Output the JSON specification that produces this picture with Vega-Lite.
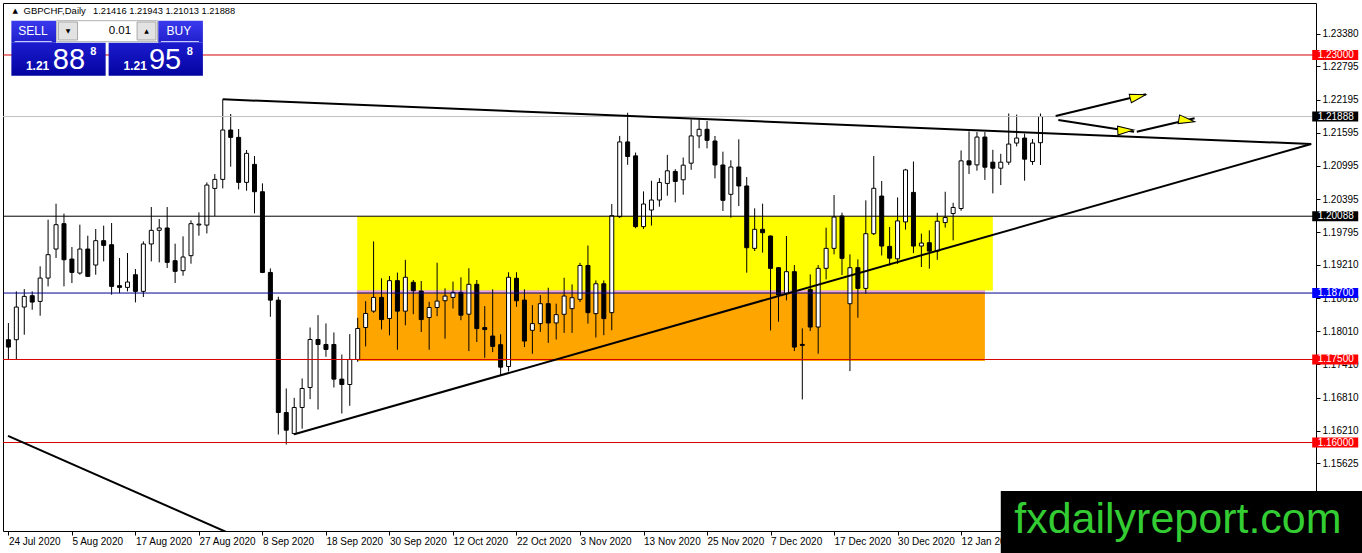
{
"$schema": "https://vega.github.io/schema/vega-lite/v6.json",
"width": 1313, "height": 528,
"autosize": "none",
"padding": {"left": 3, "top": 3, "right": 46, "bottom": 22},
"background": "white",
"config": {"font": "Liberation Sans", "view": {"stroke": "black", "strokeWidth": 1},
 "axis": {"labelFont": "Liberation Sans", "labelFontSize": 10, "labelColor": "black", "tickColor": "black", "grid": false, "domain": false, "title": null}},
"resolve": {"scale": {"fill": "independent", "stroke": "independent"}},
"datasets": {
"one": [{}],
"candles": [
{"date":"2020-07-24","i":0,"o":1.17857,"h":1.18158,"l":1.17507,"c":1.17724},
{"date":"2020-07-27","i":1,"o":1.17857,"h":1.18730,"l":1.17507,"c":1.18447},
{"date":"2020-07-28","i":2,"o":1.18447,"h":1.18772,"l":1.17947,"c":1.18640},
{"date":"2020-07-29","i":3,"o":1.18652,"h":1.18730,"l":1.18399,"c":1.18537},
{"date":"2020-07-30","i":4,"o":1.18549,"h":1.19182,"l":1.18290,"c":1.18971},
{"date":"2020-07-31","i":5,"o":1.18971,"h":1.20025,"l":1.18820,"c":1.19393},
{"date":"2020-08-03","i":6,"o":1.19495,"h":1.20314,"l":1.19333,"c":1.19935},
{"date":"2020-08-04","i":7,"o":1.19953,"h":1.20134,"l":1.18820,"c":1.19302},
{"date":"2020-08-05","i":8,"o":1.19314,"h":1.19531,"l":1.18881,"c":1.19073},
{"date":"2020-08-06","i":9,"o":1.19061,"h":1.19935,"l":1.19031,"c":1.19495},
{"date":"2020-08-07","i":10,"o":1.19495,"h":1.19736,"l":1.18990,"c":1.19001},
{"date":"2020-08-10","i":11,"o":1.19206,"h":1.19857,"l":1.19031,"c":1.19646},
{"date":"2020-08-11","i":12,"o":1.19646,"h":1.19917,"l":1.19272,"c":1.19561},
{"date":"2020-08-12","i":13,"o":1.19573,"h":1.19965,"l":1.18670,"c":1.18820},
{"date":"2020-08-13","i":14,"o":1.18833,"h":1.19333,"l":1.18700,"c":1.18802},
{"date":"2020-08-14","i":15,"o":1.18802,"h":1.19423,"l":1.18730,"c":1.18899},
{"date":"2020-08-17","i":16,"o":1.19031,"h":1.19134,"l":1.18531,"c":1.18730},
{"date":"2020-08-18","i":17,"o":1.18730,"h":1.19634,"l":1.18628,"c":1.19586},
{"date":"2020-08-19","i":18,"o":1.19586,"h":1.20254,"l":1.19272,"c":1.19833},
{"date":"2020-08-20","i":19,"o":1.19833,"h":1.20037,"l":1.19254,"c":1.19875},
{"date":"2020-08-21","i":20,"o":1.19875,"h":1.20254,"l":1.19152,"c":1.19254},
{"date":"2020-08-24","i":21,"o":1.19284,"h":1.19592,"l":1.18881,"c":1.19092},
{"date":"2020-08-25","i":22,"o":1.19104,"h":1.19724,"l":1.19013,"c":1.19351},
{"date":"2020-08-26","i":23,"o":1.19375,"h":1.20013,"l":1.19230,"c":1.19953},
{"date":"2020-08-27","i":24,"o":1.19930,"h":1.20158,"l":1.19736,"c":1.19945},
{"date":"2020-08-28","i":25,"o":1.19928,"h":1.20699,"l":1.19777,"c":1.20651},
{"date":"2020-08-31","i":26,"o":1.20590,"h":1.20849,"l":1.20090,"c":1.20753},
{"date":"2020-09-01","i":27,"o":1.20753,"h":1.22200,"l":1.20590,"c":1.21645},
{"date":"2020-09-02","i":28,"o":1.21645,"h":1.21934,"l":1.20982,"c":1.21512},
{"date":"2020-09-03","i":29,"o":1.21512,"h":1.21663,"l":1.20572,"c":1.20699},
{"date":"2020-09-04","i":30,"o":1.20699,"h":1.21283,"l":1.20548,"c":1.21223},
{"date":"2020-09-07","i":31,"o":1.21024,"h":1.21175,"l":1.20139,"c":1.20530},
{"date":"2020-09-08","i":32,"o":1.20530,"h":1.20681,"l":1.19060,"c":1.19072},
{"date":"2020-09-09","i":33,"o":1.19072,"h":1.19145,"l":1.18271,"c":1.18572},
{"date":"2020-09-10","i":34,"o":1.18572,"h":1.18633,"l":1.16145,"c":1.16542},
{"date":"2020-09-11","i":35,"o":1.16542,"h":1.16976,"l":1.15964,"c":1.16223},
{"date":"2020-09-14","i":36,"o":1.16163,"h":1.16807,"l":1.16133,"c":1.16633},
{"date":"2020-09-15","i":37,"o":1.16633,"h":1.17157,"l":1.16250,"c":1.16976},
{"date":"2020-09-16","i":38,"o":1.16994,"h":1.18078,"l":1.16783,"c":1.17861},
{"date":"2020-09-17","i":39,"o":1.17861,"h":1.18301,"l":1.16596,"c":1.17771},
{"date":"2020-09-18","i":40,"o":1.17771,"h":1.18151,"l":1.17548,"c":1.17681},
{"date":"2020-09-21","i":41,"o":1.17771,"h":1.17988,"l":1.16994,"c":1.17145},
{"date":"2020-09-22","i":42,"o":1.17145,"h":1.17590,"l":1.16524,"c":1.17048},
{"date":"2020-09-23","i":43,"o":1.17048,"h":1.17958,"l":1.16663,"c":1.17500},
{"date":"2020-09-24","i":44,"o":1.17500,"h":1.18253,"l":1.17458,"c":1.18060},
{"date":"2020-09-25","i":45,"o":1.18078,"h":1.18554,"l":1.17736,"c":1.18331},
{"date":"2020-09-28","i":46,"o":1.18373,"h":1.19633,"l":1.18342,"c":1.18621},
{"date":"2020-09-29","i":47,"o":1.18621,"h":1.18967,"l":1.18040,"c":1.18221},
{"date":"2020-09-30","i":48,"o":1.18240,"h":1.19009,"l":1.17936,"c":1.18924},
{"date":"2020-10-01","i":49,"o":1.18924,"h":1.19070,"l":1.17676,"c":1.18373},
{"date":"2020-10-02","i":50,"o":1.18373,"h":1.19300,"l":1.18118,"c":1.18985},
{"date":"2020-10-05","i":51,"o":1.18894,"h":1.18936,"l":1.18318,"c":1.18742},
{"date":"2020-10-06","i":52,"o":1.18736,"h":1.18918,"l":1.17997,"c":1.18221},
{"date":"2020-10-07","i":53,"o":1.18258,"h":1.18542,"l":1.17676,"c":1.18439},
{"date":"2020-10-08","i":54,"o":1.18439,"h":1.19248,"l":1.18282,"c":1.18555},
{"date":"2020-10-09","i":55,"o":1.18561,"h":1.18785,"l":1.17876,"c":1.18645},
{"date":"2020-10-12","i":56,"o":1.18621,"h":1.18906,"l":1.18421,"c":1.18712},
{"date":"2020-10-13","i":57,"o":1.18712,"h":1.18985,"l":1.18209,"c":1.18300},
{"date":"2020-10-14","i":58,"o":1.18318,"h":1.19148,"l":1.17652,"c":1.18858},
{"date":"2020-10-15","i":59,"o":1.18858,"h":1.18936,"l":1.17815,"c":1.18058},
{"date":"2020-10-16","i":60,"o":1.18076,"h":1.18464,"l":1.17530,"c":1.18040},
{"date":"2020-10-19","i":61,"o":1.17924,"h":1.18767,"l":1.17633,"c":1.17736},
{"date":"2020-10-20","i":62,"o":1.17767,"h":1.17955,"l":1.17209,"c":1.17361},
{"date":"2020-10-21","i":63,"o":1.17373,"h":1.19076,"l":1.17282,"c":1.18985},
{"date":"2020-10-22","i":64,"o":1.18967,"h":1.19076,"l":1.18452,"c":1.18561},
{"date":"2020-10-23","i":65,"o":1.18573,"h":1.18767,"l":1.17724,"c":1.17833},
{"date":"2020-10-26","i":66,"o":1.18027,"h":1.18482,"l":1.17603,"c":1.18148},
{"date":"2020-10-27","i":67,"o":1.18148,"h":1.18664,"l":1.17998,"c":1.18508},
{"date":"2020-10-28","i":68,"o":1.18508,"h":1.18796,"l":1.17800,"c":1.18160},
{"date":"2020-10-29","i":69,"o":1.18160,"h":1.18508,"l":1.17860,"c":1.18310},
{"date":"2020-10-30","i":70,"o":1.18316,"h":1.18976,"l":1.17980,"c":1.18646},
{"date":"2020-11-02","i":71,"o":1.18418,"h":1.18856,"l":1.17980,"c":1.18616},
{"date":"2020-11-03","i":72,"o":1.18586,"h":1.19246,"l":1.18538,"c":1.19198},
{"date":"2020-11-04","i":73,"o":1.19198,"h":1.19558,"l":1.18148,"c":1.18346},
{"date":"2020-11-05","i":74,"o":1.18328,"h":1.18928,"l":1.17896,"c":1.18868},
{"date":"2020-11-06","i":75,"o":1.18868,"h":1.18928,"l":1.17938,"c":1.18238},
{"date":"2020-11-09","i":76,"o":1.18346,"h":1.20308,"l":1.18028,"c":1.20098},
{"date":"2020-11-10","i":77,"o":1.20080,"h":1.21538,"l":1.20056,"c":1.21430},
{"date":"2020-11-11","i":78,"o":1.21430,"h":1.21957,"l":1.21016,"c":1.21166},
{"date":"2020-11-12","i":79,"o":1.21178,"h":1.21238,"l":1.19870,"c":1.19900},
{"date":"2020-11-13","i":80,"o":1.19900,"h":1.20536,"l":1.19858,"c":1.20308},
{"date":"2020-11-16","i":81,"o":1.20200,"h":1.20728,"l":1.19918,"c":1.20380},
{"date":"2020-11-17","i":82,"o":1.20380,"h":1.20776,"l":1.20260,"c":1.20698},
{"date":"2020-11-18","i":83,"o":1.20680,"h":1.21196,"l":1.20458,"c":1.20908},
{"date":"2020-11-19","i":84,"o":1.20896,"h":1.20938,"l":1.20338,"c":1.20716},
{"date":"2020-11-20","i":85,"o":1.20746,"h":1.21148,"l":1.20476,"c":1.21010},
{"date":"2020-11-23","i":86,"o":1.21046,"h":1.21837,"l":1.20926,"c":1.21538},
{"date":"2020-11-24","i":87,"o":1.21538,"h":1.21855,"l":1.21316,"c":1.21658},
{"date":"2020-11-25","i":88,"o":1.21658,"h":1.21808,"l":1.21314,"c":1.21459},
{"date":"2020-11-26","i":89,"o":1.21447,"h":1.21537,"l":1.20772,"c":1.21013},
{"date":"2020-11-27","i":90,"o":1.21013,"h":1.21254,"l":1.20182,"c":1.20375},
{"date":"2020-11-30","i":91,"o":1.20483,"h":1.21098,"l":1.20061,"c":1.20977},
{"date":"2020-12-01","i":92,"o":1.20977,"h":1.21477,"l":1.20272,"c":1.20634},
{"date":"2020-12-02","i":93,"o":1.20634,"h":1.20796,"l":1.19067,"c":1.19519},
{"date":"2020-12-03","i":94,"o":1.19507,"h":1.20230,"l":1.19459,"c":1.19851},
{"date":"2020-12-04","i":95,"o":1.19851,"h":1.20314,"l":1.19429,"c":1.19790},
{"date":"2020-12-07","i":96,"o":1.19730,"h":1.19740,"l":1.18025,"c":1.19146},
{"date":"2020-12-08","i":97,"o":1.19158,"h":1.19170,"l":1.18182,"c":1.18664},
{"date":"2020-12-09","i":98,"o":1.18688,"h":1.19730,"l":1.18567,"c":1.19086},
{"date":"2020-12-10","i":99,"o":1.19086,"h":1.19206,"l":1.17652,"c":1.17724},
{"date":"2020-12-11","i":100,"o":1.17772,"h":1.18061,"l":1.16778,"c":1.17754},
{"date":"2020-12-14","i":101,"o":1.18766,"h":1.19037,"l":1.18013,"c":1.18086},
{"date":"2020-12-15","i":102,"o":1.18086,"h":1.19206,"l":1.17604,"c":1.19146},
{"date":"2020-12-16","i":103,"o":1.19146,"h":1.19881,"l":1.18947,"c":1.19507},
{"date":"2020-12-17","i":104,"o":1.19507,"h":1.20471,"l":1.19399,"c":1.20073},
{"date":"2020-12-18","i":105,"o":1.20092,"h":1.20152,"l":1.19025,"c":1.19327},
{"date":"2020-12-21","i":106,"o":1.18507,"h":1.19399,"l":1.17290,"c":1.19158},
{"date":"2020-12-22","i":107,"o":1.19158,"h":1.19308,"l":1.18254,"c":1.18784},
{"date":"2020-12-23","i":108,"o":1.18784,"h":1.20375,"l":1.18688,"c":1.19772},
{"date":"2020-12-24","i":109,"o":1.19772,"h":1.21176,"l":1.19748,"c":1.20592},
{"date":"2020-12-28","i":110,"o":1.20452,"h":1.20724,"l":1.19379,"c":1.19549},
{"date":"2020-12-29","i":111,"o":1.19543,"h":1.19894,"l":1.19197,"c":1.19330},
{"date":"2020-12-30","i":112,"o":1.19318,"h":1.20427,"l":1.19227,"c":1.20003},
{"date":"2020-12-31","i":113,"o":1.19985,"h":1.20943,"l":1.19846,"c":1.20924},
{"date":"2021-01-04","i":114,"o":1.20518,"h":1.21076,"l":1.19421,"c":1.19549},
{"date":"2021-01-05","i":115,"o":1.19549,"h":1.19773,"l":1.19170,"c":1.19603},
{"date":"2021-01-06","i":116,"o":1.19609,"h":1.19833,"l":1.19140,"c":1.19458},
{"date":"2021-01-07","i":117,"o":1.19458,"h":1.20149,"l":1.19300,"c":1.19997},
{"date":"2021-01-08","i":118,"o":1.19973,"h":1.20530,"l":1.19882,"c":1.20064},
{"date":"2021-01-11","i":119,"o":1.20136,"h":1.20330,"l":1.19652,"c":1.20246},
{"date":"2021-01-12","i":120,"o":1.20227,"h":1.21276,"l":1.20185,"c":1.21088},
{"date":"2021-01-13","i":121,"o":1.21088,"h":1.21621,"l":1.20850,"c":1.21015},
{"date":"2021-01-14","i":122,"o":1.21015,"h":1.21609,"l":1.20910,"c":1.21518},
{"date":"2021-01-15","i":123,"o":1.21518,"h":1.21609,"l":1.20743,"c":1.20973},
{"date":"2021-01-18","i":124,"o":1.21064,"h":1.21288,"l":1.20500,"c":1.20955},
{"date":"2021-01-19","i":125,"o":1.20955,"h":1.21215,"l":1.20650,"c":1.21064},
{"date":"2021-01-20","i":126,"o":1.21064,"h":1.21943,"l":1.21015,"c":1.21391},
{"date":"2021-01-21","i":127,"o":1.21409,"h":1.21924,"l":1.21349,"c":1.21500},
{"date":"2021-01-22","i":128,"o":1.21500,"h":1.21579,"l":1.20730,"c":1.21118},
{"date":"2021-01-25","i":129,"o":1.21076,"h":1.21482,"l":1.21015,"c":1.21409},
{"date":"2021-01-26","i":130,"o":1.21416,"h":1.21943,"l":1.21013,"c":1.21888}
],
"zones": [
{"zone":"upper","from":43.94,"to":124.0,"lo":1.18746,"hi":1.20088},
{"zone":"lower","from":43.94,"to":123.0,"lo":1.17472,"hi":1.18746}
],
"levels": [
{"level":1.23,"role":"resistance"},
{"level":1.21888,"role":"bid"},
{"level":1.20088,"role":"pivot"},
{"level":1.187,"role":"zone"},
{"level":1.175,"role":"support"},
{"level":1.16,"role":"support"}
],
"trend": [
{"line":"upper","i":27,"p":1.222},
{"line":"upper","i":164.1,"p":1.21392},
{"line":"rising","i":36,"p":1.1615},
{"line":"rising","i":164.1,"p":1.21392},
{"line":"falling","i":-0.05,"p":1.1612},
{"line":"falling","i":30,"p":1.14223}
],
"arrows": [
{"arrow":1,"i":131.91,"p":1.21898},
{"arrow":1,"i":143.29,"p":1.2229},
{"arrow":2,"i":132.25,"p":1.21826},
{"arrow":2,"i":141.79,"p":1.21615},
{"arrow":3,"i":142.13,"p":1.21615},
{"arrow":3,"i":149.41,"p":1.21857}
],
"heads": [
{"arrow":1,"i":142.29,"p":1.222486},
{"arrow":2,"i":140.74,"p":1.216398},
{"arrow":3,"i":148.43,"p":1.218168}
]
},
"layer": [
{"data":{"name":"zones"},"mark":{"type":"rect","clip":true},
 "encoding":{"x":{"field":"from","type":"quantitative","title":null},"x2":{"field":"to"},
  "y":{"field":"lo","type":"quantitative","title":null},"y2":{"field":"hi"},
  "fill":{"field":"zone","type":"nominal","scale":{"domain":["upper","lower"],"range":["#ffff00","#ffa500"]},"legend":null}}},
{"data":{"name":"one"},"mark":{"type":"rule","stroke":"#e4a4ee","strokeWidth":2,"clip":true},
 "encoding":{"x":{"datum":43.94,"type":"quantitative"},"x2":{"datum":123.0},"y":{"datum":1.18728,"type":"quantitative"}}},
{"data":{"name":"candles"},"mark":{"type":"rule","stroke":"black","strokeWidth":1,"clip":true},
 "encoding":{
  "x":{"field":"i","type":"quantitative","title":null,"scale":{"domain":[-0.05,164.075],"nice":false,"zero":false},
   "axis":{"values":[0,8,16,24,32,40,48,56,64,72,80,88,96,104,112,120],
    "labelExpr":"['24 Jul 2020','5 Aug 2020','17 Aug 2020','27 Aug 2020','8 Sep 2020','18 Sep 2020','30 Sep 2020','12 Oct 2020','22 Oct 2020','3 Nov 2020','13 Nov 2020','25 Nov 2020','7 Dec 2020','17 Dec 2020','30 Dec 2020','12 Jan 2021'][round(datum.value/8)]",
    "labelAlign":"left","tickSize":4,"labelPadding":1,"labelOverlap":false,"labelFlush":false,"labelBound":false,"title":null}},
  "y":{"field":"l","type":"quantitative","title":null,"scale":{"domain":[1.144017,1.239393],"nice":false,"zero":false},
   "axis":{"orient":"right","values":[1.15625,1.1621,1.1681,1.1741,1.1801,1.1861,1.1921,1.19795,1.20395,1.20995,1.21595,1.22195,1.22795,1.2338],
    "format":".5f","tickSize":4,"labelPadding":2,"labelOverlap":false,"labelBound":false,"title":null}},
  "y2":{"field":"h"}}},
{"data":{"name":"candles"},"mark":{"type":"bar","width":4,"stroke":"black","strokeWidth":1,"clip":true},
 "encoding":{"x":{"field":"i","type":"quantitative","title":null},
  "y":{"field":"o","type":"quantitative","title":null},"y2":{"field":"c"},
  "fill":{"condition":{"test":"datum.c >= datum.o","value":"white"},"value":"black"}}},
{"data":{"name":"levels"},"mark":{"type":"rule","strokeWidth":1},
 "encoding":{"y":{"field":"level","type":"quantitative","title":null},
  "stroke":{"field":"role","type":"nominal","scale":{"domain":["resistance","bid","pivot","zone","support"],"range":["#d40000","#c0c0c0","#000000","#000090","#d40000"]},"legend":null}}},
{"data":{"name":"trend"},"mark":{"type":"line","stroke":"black","strokeWidth":2,"clip":true},
 "encoding":{"x":{"field":"i","type":"quantitative","title":null},"y":{"field":"p","type":"quantitative","title":null},"detail":{"field":"line"}}},
{"data":{"name":"arrows"},"mark":{"type":"line","stroke":"black","strokeWidth":2},
 "encoding":{"x":{"field":"i","type":"quantitative","title":null},"y":{"field":"p","type":"quantitative","title":null},"detail":{"field":"arrow"}}},
{"data":{"name":"heads"},"mark":{"type":"point","shape":"M1,0L-1,-0.55L-1,0.55Z","size":256,"filled":true,"fill":"#ffff00","stroke":"black","strokeWidth":1,"opacity":1},
 "encoding":{"x":{"field":"i","type":"quantitative","title":null},"y":{"field":"p","type":"quantitative","title":null},
  "angle":{"field":"arrow","type":"nominal","scale":{"domain":[1,2,3],"range":[-14,9,-14]},"legend":null}}},
{"data":{"name":"levels"},"mark":{"type":"point","shape":"M-1,-0.217L1,-0.217L1,0.217L-1,0.217Z","size":2116,"filled":true,"opacity":1,"strokeWidth":0},
 "encoding":{"x":{"datum":167.125,"type":"quantitative"},"y":{"field":"level","type":"quantitative","title":null},
  "fill":{"field":"role","type":"nominal","scale":{"domain":["resistance","bid","pivot","zone","support"],"range":["#ff0000","#000000","#000000","#0000ff","#ff0000"]},"legend":null}}},
{"data":{"name":"levels"},"mark":{"type":"text","fill":"white","align":"left","baseline":"middle","fontSize":10},
 "encoding":{"x":{"datum":164.91,"type":"quantitative"},"y":{"field":"level","type":"quantitative","title":null},"text":{"field":"level","format":".5f"}}},
{"data":{"name":"one"},"mark":{"type":"rect","fill":{"gradient":"linear","x1":0,"y1":0,"x2":0,"y2":1,"stops":[{"offset":0,"color":"#3b3bee"},{"offset":1,"color":"#1f1fcc"}]}},
 "encoding":{"x":{"datum":0.375,"type":"quantitative"},"x2":{"datum":6.0},"y":{"datum":1.236196,"type":"quantitative"},"y2":{"datum":1.232222}}},
{"data":{"name":"one"},"mark":{"type":"rect","fill":{"gradient":"linear","x1":0,"y1":0,"x2":0,"y2":1,"stops":[{"offset":0,"color":"#1c1cd0"},{"offset":1,"color":"#0303a0"}]}},
 "encoding":{"x":{"datum":0.375,"type":"quantitative"},"x2":{"datum":12.25},"y":{"datum":1.232222,"type":"quantitative"},"y2":{"datum":1.226261}}},
{"data":{"name":"one"},"mark":{"type":"rect","fill":{"gradient":"linear","x1":0,"y1":0,"x2":0,"y2":1,"stops":[{"offset":0,"color":"#3b3bee"},{"offset":1,"color":"#1f1fcc"}]}},
 "encoding":{"x":{"datum":18.875,"type":"quantitative"},"x2":{"datum":24.5},"y":{"datum":1.236196,"type":"quantitative"},"y2":{"datum":1.232222}}},
{"data":{"name":"one"},"mark":{"type":"rect","fill":{"gradient":"linear","x1":0,"y1":0,"x2":0,"y2":1,"stops":[{"offset":0,"color":"#1c1cd0"},{"offset":1,"color":"#0303a0"}]}},
 "encoding":{"x":{"datum":12.625,"type":"quantitative"},"x2":{"datum":24.5},"y":{"datum":1.232222,"type":"quantitative"},"y2":{"datum":1.226261}}},
{"data":{"name":"one"},"mark":{"type":"rect","fill":"white","stroke":"#b0b0b0","strokeWidth":1},
 "encoding":{"x":{"datum":6.09,"type":"quantitative"},"x2":{"datum":18.79},"y":{"datum":1.236196,"type":"quantitative"},"y2":{"datum":1.232402}}},
{"data":{"name":"one"},"mark":{"type":"rect","fill":"#e2e2e2","stroke":"#a8a8a8","strokeWidth":1},
 "encoding":{"x":{"datum":6.29,"type":"quantitative"},"x2":{"datum":8.71},"y":{"datum":1.235961,"type":"quantitative"},"y2":{"datum":1.23271}}},
{"data":{"name":"one"},"mark":{"type":"rect","fill":"#e2e2e2","stroke":"#a8a8a8","strokeWidth":1},
 "encoding":{"x":{"datum":16.21,"type":"quantitative"},"x2":{"datum":18.59},"y":{"datum":1.235961,"type":"quantitative"},"y2":{"datum":1.23271}}},
{"data":{"name":"one"},"mark":{"type":"rule","stroke":"#c8c8ff","strokeWidth":1},
 "encoding":{"x":{"datum":0.79,"type":"quantitative"},"x2":{"datum":5.46},"y":{"datum":1.232439,"type":"quantitative"}}},
{"data":{"name":"one"},"mark":{"type":"rule","stroke":"#c8c8ff","strokeWidth":1},
 "encoding":{"x":{"datum":19.21,"type":"quantitative"},"x2":{"datum":24.0},"y":{"datum":1.232439,"type":"quantitative"}}},
{"data":{"name":"one"},"mark":{"type":"text","text":"SELL","fill":"white","align":"center","baseline":"middle","fontSize":12,"font":"Liberation Sans Narrow, Liberation Sans"},
 "encoding":{"x":{"datum":3.1,"type":"quantitative"},"y":{"datum":1.234245,"type":"quantitative"}}},
{"data":{"name":"one"},"mark":{"type":"text","text":"BUY","fill":"white","align":"center","baseline":"middle","fontSize":12,"font":"Liberation Sans Narrow, Liberation Sans"},
 "encoding":{"x":{"datum":21.48,"type":"quantitative"},"y":{"datum":1.234245,"type":"quantitative"}}},
{"data":{"name":"one"},"mark":{"type":"text","text":"0.01","fill":"black","align":"right","baseline":"middle","fontSize":11.5},
 "encoding":{"x":{"datum":15.46,"type":"quantitative"},"y":{"datum":1.234335,"type":"quantitative"}}},
{"data":{"name":"one"},"mark":{"type":"text","text":"▼","fill":"black","align":"center","baseline":"middle","fontSize":6,"font":"DejaVu Sans"},
 "encoding":{"x":{"datum":7.5,"type":"quantitative"},"y":{"datum":1.234335,"type":"quantitative"}}},
{"data":{"name":"one"},"mark":{"type":"text","text":"▲","fill":"black","align":"center","baseline":"middle","fontSize":6,"font":"DejaVu Sans"},
 "encoding":{"x":{"datum":17.4,"type":"quantitative"},"y":{"datum":1.234335,"type":"quantitative"}}},
{"data":{"name":"one"},"mark":{"type":"text","text":"1.21","fill":"white","align":"left","baseline":"alphabetic","fontSize":12,"fontWeight":"bold"},
 "encoding":{"x":{"datum":2.21,"type":"quantitative"},"y":{"datum":1.22729,"type":"quantitative"}}},
{"data":{"name":"one"},"mark":{"type":"text","text":"88","fill":"white","align":"left","baseline":"alphabetic","fontSize":29},
 "encoding":{"x":{"datum":5.6,"type":"quantitative"},"y":{"datum":1.227471,"type":"quantitative"}}},
{"data":{"name":"one"},"mark":{"type":"text","text":"8","fill":"white","align":"left","baseline":"alphabetic","fontSize":11,"fontWeight":"bold"},
 "encoding":{"x":{"datum":10.3,"type":"quantitative"},"y":{"datum":1.23,"type":"quantitative"}}},
{"data":{"name":"one"},"mark":{"type":"text","text":"1.21","fill":"white","align":"left","baseline":"alphabetic","fontSize":12,"fontWeight":"bold"},
 "encoding":{"x":{"datum":14.5,"type":"quantitative"},"y":{"datum":1.22729,"type":"quantitative"}}},
{"data":{"name":"one"},"mark":{"type":"text","text":"95","fill":"white","align":"left","baseline":"alphabetic","fontSize":29},
 "encoding":{"x":{"datum":17.7,"type":"quantitative"},"y":{"datum":1.227471,"type":"quantitative"}}},
{"data":{"name":"one"},"mark":{"type":"text","text":"8","fill":"white","align":"left","baseline":"alphabetic","fontSize":11,"fontWeight":"bold"},
 "encoding":{"x":{"datum":22.46,"type":"quantitative"},"y":{"datum":1.23,"type":"quantitative"}}},
{"data":{"name":"one"},"mark":{"type":"text","text":"▲","fill":"black","align":"center","baseline":"middle","fontSize":7,"font":"DejaVu Sans"},
 "encoding":{"x":{"datum":0.87,"type":"quantitative"},"y":{"datum":1.237948,"type":"quantitative"}}},
{"data":{"name":"one"},"mark":{"type":"text","text":"GBPCHF,Daily","fill":"black","align":"left","baseline":"alphabetic","fontSize":9.5},
 "encoding":{"x":{"datum":1.91,"type":"quantitative"},"y":{"datum":1.237406,"type":"quantitative"}}},
{"data":{"name":"one"},"mark":{"type":"text","text":"1.21416 1.21943 1.21013 1.21888","fill":"black","align":"left","baseline":"alphabetic","fontSize":9.3},
 "encoding":{"x":{"datum":10.66,"type":"quantitative"},"y":{"datum":1.237406,"type":"quantitative"}}},
{"data":{"name":"one"},"mark":{"type":"rect","fill":"black"},
 "encoding":{"x":{"datum":125.0,"type":"quantitative"},"x2":{"datum":170.5},"y":{"datum":1.15124,"type":"quantitative"},"y2":{"datum":1.139}}},
{"data":{"name":"one"},"mark":{"type":"text","text":"fxdailyreport.com","fill":"#33cc33","align":"center","baseline":"alphabetic","fontSize":43},
 "encoding":{"x":{"datum":147.31,"type":"quantitative"},"y":{"datum":1.14366,"type":"quantitative"}}}
]
}
